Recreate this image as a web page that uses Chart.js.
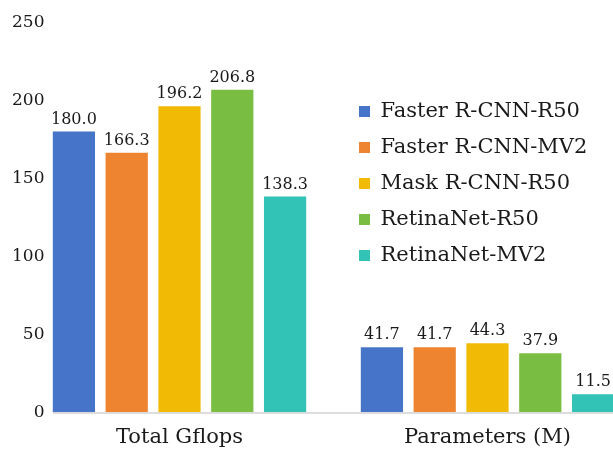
<!DOCTYPE html>
<html>
<head>
<meta charset="utf-8">
<script src="https://cdn.jsdelivr.net/npm/chart.js@4/dist/chart.umd.min.js"></script>
<style>
  html, body { margin: 0; padding: 0; background: #fff; overflow: hidden; }
  #wrap { position: relative; width: 660px; height: 449px; }
</style>
</head>
<body>
<div id="wrap"><canvas id="chart"></canvas></div>
<script>
// Categories along the x axis
const categories = ['Total Gflops', 'Parameters (M)'];

// One series per detector: [Total Gflops, Parameters (M)]
const seriesNames = [
  'Faster R-CNN-R50',
  'Faster R-CNN-MV2',
  'Mask R-CNN-R50',
  'RetinaNet-R50',
  'RetinaNet-MV2'
];
const fasterRcnnR50 = [180.0, 41.7];
const fasterRcnnMv2 = [166.3, 41.7];
const maskRcnnR50   = [196.2, 44.3];
const retinaNetR50  = [206.8, 37.9];
const retinaNetMv2  = [138.3, 11.5];
const seriesValues = [fasterRcnnR50, fasterRcnnMv2, maskRcnnR50, retinaNetR50, retinaNetMv2];

// Y axis tick values
const yTicks = [0, 50, 100, 150, 200, 250];

const colors = ['#4674C9', '#EE8330', '#F1BA05', '#79BE42', '#32C2B6'];
const SERIF = '"DejaVu Serif", serif';
const INK = '#1a1a1a';

// Light baseline under the bars, starting at the first bar
const baselinePlugin = {
  id: 'baseline',
  afterDatasetsDraw(chart) {
    const meta = chart.getDatasetMeta(0);
    const first = meta.data[0];
    const y = chart.scales.y.getPixelForValue(0);
    const ctx = chart.ctx;
    ctx.save();
    ctx.strokeStyle = '#d2d2d2';
    ctx.lineWidth = 1.5;
    ctx.beginPath();
    ctx.moveTo(first.x - first.width / 2, y + 0.8);
    ctx.lineTo(chart.chartArea.right, y + 0.8);
    ctx.stroke();
    ctx.restore();
  }
};

// Value printed above each bar
const valueLabelPlugin = {
  id: 'valueLabels',
  afterDatasetsDraw(chart) {
    const ctx = chart.ctx;
    ctx.save();
    ctx.font = '16px ' + SERIF;
    ctx.fillStyle = INK;
    ctx.textAlign = 'center';
    ctx.textBaseline = 'alphabetic';
    chart.data.datasets.forEach((ds, i) => {
      chart.getDatasetMeta(i).data.forEach((bar, j) => {
        ctx.fillText(ds.data[j].toFixed(1), bar.x, bar.y - 8);
      });
    });
    ctx.restore();
  }
};

// Place the legend block inside the plot, to the right
const legendPlacePlugin = {
  id: 'legendPlace',
  afterLayout(chart) {
    const lg = chart.legend;
    const left = 344, top = 86;
    const w = lg.width, h = lg.height;
    lg.left = left; lg.top = top;
    lg.right = left + w; lg.bottom = top + h;
  }
};

new Chart(document.getElementById('chart'), {
  type: 'bar',
  data: {
    labels: categories,
    datasets: seriesNames.map((name, i) => ({
      label: name,
      data: seriesValues[i],
      backgroundColor: colors[i],
      borderWidth: 0,
      categoryPercentage: 0.857,
      barPercentage: 0.8
    }))
  },
  options: {
    responsive: true,
    maintainAspectRatio: false,
    animation: false,
    layout: { padding: { left: 0, top: 22.3, right: 18.5, bottom: 0.7 } },
    plugins: {
      legend: {
        position: 'chartArea',
        align: 'start',
        labels: {
          boxWidth: 11,
          boxHeight: 11,
          padding: 15,
          color: INK,
          font: { family: SERIF, size: 21 }
        }
      },
      tooltip: { enabled: false }
    },
    scales: {
      x: {
        afterFit(scale) { scale.height = 36; },
        grid: { display: false, drawTicks: false },
        border: { display: false },
        ticks: { color: INK, padding: 13, font: { family: SERIF, size: 21 } }
      },
      y: {
        min: yTicks[0],
        max: yTicks[yTicks.length - 1],
        afterBuildTicks(scale) { scale.ticks = yTicks.map(v => ({ value: v })); },
        afterFit(scale) {
          // narrow axis box; labels are allowed to overhang into the empty left margin
          scale.width = 25.5;
          scale._computeLabelArea = () => null;
        },
        grid: { display: false, drawTicks: false },
        border: { display: false },
        ticks: { color: INK, padding: -19, font: { family: SERIF, size: 17 } }
      }
    }
  },
  plugins: [baselinePlugin, valueLabelPlugin, legendPlacePlugin]
});
</script>
</body>
</html>
